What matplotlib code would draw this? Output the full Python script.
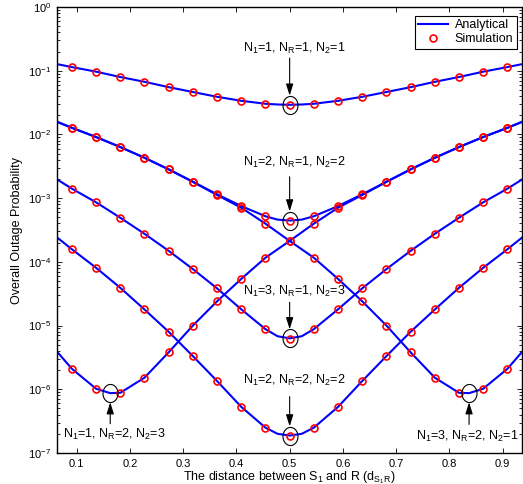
import numpy as np
import matplotlib
matplotlib.use('Agg')
import matplotlib.pyplot as plt
from matplotlib.path import Path

plt.rcParams['font.family'] = ['Liberation Sans', 'DejaVu Sans']
plt.rcParams['mathtext.fontset'] = 'custom'
plt.rcParams['mathtext.rm'] = 'Liberation Sans'
plt.rcParams['mathtext.it'] = 'Liberation Sans:italic'
plt.rcParams['mathtext.default'] = 'regular'

# ---------------- data ----------------
x_sim = [0.0909, 0.1364, 0.1818, 0.2273, 0.2727, 0.3182, 0.3636, 0.4091, 0.4545,
         0.5, 0.5455, 0.5909, 0.6364, 0.6818, 0.7273, 0.7727, 0.8182, 0.8636, 0.9091]

# N1=1, NR=1, N2=1
sim_A = [0.114, 0.0966, 0.0796, 0.067, 0.0552, 0.0463, 0.039, 0.0337, 0.0303,
         0.0292, 0.0303, 0.0337, 0.039, 0.0463, 0.0552, 0.067, 0.0796, 0.0966, 0.114]
# N1=2, NR=1, N2=2
sim_B = [0.0127, 0.0091, 0.00634, 0.0043, 0.00283, 0.00181, 0.00115, 7.5e-4, 5.2e-4,
         4.4e-4, 5.2e-4, 7.5e-4, 0.00115, 0.00181, 0.00283, 0.0043, 0.00634, 0.0091, 0.0127]
# N1=3, NR=1, N2=3
sim_C = [1.41e-3, 8.6e-4, 4.93e-4, 2.76e-4, 1.49e-4, 7.7e-5, 3.84e-5, 1.8e-5, 8.8e-6,
         6.2e-6, 8.8e-6, 1.8e-5, 3.84e-5, 7.7e-5, 1.49e-4, 2.76e-4, 4.93e-4, 8.6e-4, 1.41e-3]
# N1=2, NR=2, N2=2
sim_D = [1.58e-4, 8.07e-5, 3.92e-5, 1.79e-5, 8.0e-6, 3.32e-6, 1.35e-6, 5.3e-7, 2.5e-7,
         1.86e-7, 2.5e-7, 5.3e-7, 1.35e-6, 3.32e-6, 8.0e-6, 1.79e-5, 3.92e-5, 8.07e-5, 1.58e-4]
# N1=1, NR=2, N2=3
sim_E = [2.1e-6, 1.02e-6, 8.8e-7, 1.52e-6, 3.8e-6, 1.0e-5, 2.4e-5, 5.4e-5, 1.16e-4,
         2.13e-4, 3.98e-4, 7.07e-4, 1.12e-3, 1.8e-3, 2.83e-3, 4.3e-3, 6.34e-3, 9.1e-3, 1.27e-2]
# N1=3, NR=2, N2=1
sim_F = [1.27e-2, 9.1e-3, 6.34e-3, 4.3e-3, 2.83e-3, 1.8e-3, 1.12e-3, 7.07e-4, 3.98e-4,
         2.13e-4, 1.16e-4, 5.4e-5, 2.4e-5, 1.0e-5, 3.8e-6, 1.52e-6, 8.8e-7, 1.02e-6, 2.1e-6]

# analytical curves (sampled at the simulation points plus edges / near minima)
xl_A = [0.063] + x_sim[:9] + [0.4773, 0.5, 0.5227] + x_sim[10:] + [0.937]
yl_A = [0.127] + sim_A[:9] + [0.0295, 0.0292, 0.0295] + sim_A[10:] + [0.127]
xl_B = [0.063] + x_sim[:9] + [0.4773, 0.5, 0.5227] + x_sim[10:] + [0.937]
yl_B = [0.0158] + sim_B[:9] + [4.6e-4, 4.45e-4, 4.6e-4] + sim_B[10:] + [0.0158]
xl_C = [0.063] + x_sim[:9] + [0.4773, 0.5, 0.5227] + x_sim[10:] + [0.937]
yl_C = [1.97e-3] + sim_C[:9] + [6.8e-6, 6.3e-6, 6.8e-6] + sim_C[10:] + [1.97e-3]
xl_D = [0.063] + x_sim[:9] + [0.4773, 0.5, 0.5227] + x_sim[10:] + [0.937]
yl_D = [2.42e-4] + sim_D[:9] + [2.0e-7, 1.88e-7, 2.0e-7] + sim_D[10:] + [2.42e-4]
xl_E = [0.063] + x_sim[:2] + [0.163] + x_sim[2:] + [0.937]
yl_E = [3.9e-6] + sim_E[:2] + [8.7e-7] + sim_E[2:] + [0.0158]
xl_F = [0.063] + x_sim[:17] + [0.837] + x_sim[17:] + [0.937]
yl_F = [0.0158] + sim_F[:17] + [8.7e-7] + sim_F[17:] + [3.9e-6]

labels = [r'N$_1$=1, N$_R$=1, N$_2$=1',
          r'N$_1$=2, N$_R$=1, N$_2$=2',
          r'N$_1$=3, N$_R$=1, N$_2$=3',
          r'N$_1$=2, N$_R$=2, N$_2$=2',
          r'N$_1$=1, N$_R$=2, N$_2$=3',
          r'N$_1$=3, N$_R$=2, N$_2$=1']

# ---------------- figure ----------------
W, H = 523, 484
fig = plt.figure(figsize=(W / 100, H / 100), dpi=100)
ax = fig.add_axes([57 / W, 31 / H, 464.5 / W, 446 / H])

lines = [(xl_A, yl_A), (xl_B, yl_B), (xl_C, yl_C), (xl_D, yl_D), (xl_E, yl_E), (xl_F, yl_F)]
sims = [sim_A, sim_B, sim_C, sim_D, sim_E, sim_F]
for i, (xl, yl) in enumerate(lines):
    ax.plot(xl, yl, color=(0, 0, 1), lw=1.5, zorder=2,
            label='Analytical' if i == 0 else None)
for i, s in enumerate(sims):
    ax.plot(x_sim, s, ls='none', marker='o', ms=5, mfc='none', mec=(1, 0, 0),
            mew=1.2, zorder=3, label='Simulation' if i == 0 else None)

ax.set_yscale('log')
ax.set_xlim(0.063, 0.9355)
ax.set_ylim(1e-7, 1e0)
ax.set_xticks([0.1, 0.2, 0.3, 0.4, 0.5, 0.6, 0.7, 0.8, 0.9])
ax.set_xticklabels(['0.1', '0.2', '0.3', '0.4', '0.5', '0.6', '0.7', '0.8', '0.9'])
ax.set_yticks([10.0 ** k for k in range(-7, 1)])
ax.yaxis.set_minor_locator(matplotlib.ticker.LogLocator(base=10, subs=np.arange(2, 10), numticks=20))
ax.yaxis.set_minor_formatter(matplotlib.ticker.NullFormatter())
ax.tick_params(which='both', direction='in', top=True, right=True, labelsize=8, width=0.6)
ax.tick_params(which='major', length=3.5, pad=4)
ax.tick_params(which='minor', length=2)
for sp in ax.spines.values():
    sp.set_linewidth(1.0)

ax.set_xlabel(r'The distance between S$_1$ and R (d$_{S_1R}$)', fontsize=9, labelpad=0.3)
ax.set_ylabel('Overall Outage Probability', fontsize=9, labelpad=4)

# ellipse marker
t = np.linspace(0, 2 * np.pi, 80)
ell = Path(np.column_stack([0.83 * np.cos(t), np.sin(t)]), closed=True)

# annotation anchors: minima of each analytical curve
anchors = []
for (xl, yl) in lines:
    j = int(np.argmin(yl))
    anchors.append((xl[j], yl[j]))

# (arrow tail offset, text baseline offset, text x offset) in points
offs = [(33.6, 37.9, 3.6), (31.5, 39.4, 3.6), (25.9, 31.0, 3.6),
        (28.0, 36.9, 3.6), (-22.0, -32.2, 2.6), (-22.5, -33.8, -1.2)]
for (xa, ya), lab, (dt, dtx, dx) in zip(anchors, labels, offs):
    ax.plot([xa], [ya], ls='none', marker=ell, ms=13, mfc='none', mec='k', mew=0.8, zorder=4)
    ax.annotate('', xy=(xa, ya), xytext=(0, dt), textcoords='offset points',
                arrowprops=dict(arrowstyle='-|>,head_length=0.7,head_width=0.22',
                                color='k', lw=0.8, shrinkA=0, shrinkB=6.6), zorder=5)
    ax.annotate(lab, xy=(xa, ya), xytext=(dx, dtx), textcoords='offset points',
                ha='center', va='baseline', fontsize=9, annotation_clip=False)

leg = ax.legend(loc='upper right', bbox_to_anchor=(1 - 4.5 / 464.5, 1 - 8.7 / 446),
                borderaxespad=0, fontsize=9, fancybox=False, framealpha=1,
                edgecolor='k', handlelength=2.4, borderpad=0.3, labelspacing=0.15,
                handletextpad=0.5)
leg.get_frame().set_linewidth(0.8)

fig.savefig('out.png', dpi=100)
